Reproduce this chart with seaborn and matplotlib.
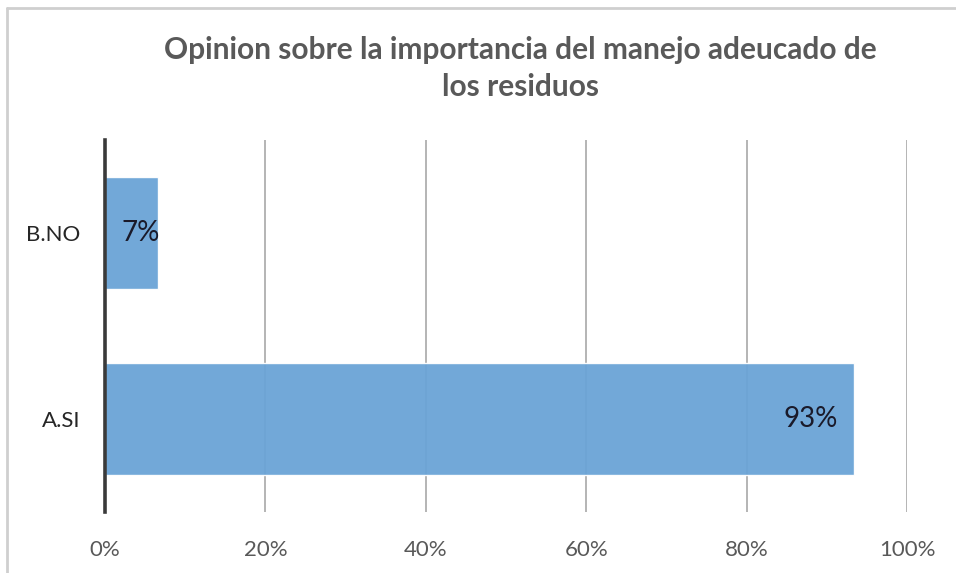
import pandas as pd
import seaborn as sns
import matplotlib.pyplot as plt
from matplotlib.lines import Line2D
from matplotlib.ticker import PercentFormatter

# Survey answers (percent of respondents)
categories = ["B.NO", "A.SI"]
percentages = [6.67, 93.33]
labels = ["7%", "93%"]

df = pd.DataFrame({"respuesta": categories, "porcentaje": percentages})

sns.set_style("white")
plt.rcParams["font.family"] = ["Lato", "DejaVu Sans"]

fig = plt.figure(figsize=(9.56, 5.73), dpi=100)
ax = fig.add_axes([0.1098, 0.1065, 0.839, 0.649])

# gridlines first so the bars sit over them
for x in range(20, 101, 20):
    ax.axvline(x, color="#b4b4b4", lw=1.4, zorder=0)

sns.barplot(data=df, x="porcentaje", y="respuesta", orient="h",
            color="#6aa3d6", saturation=1, width=0.6, alpha=0.95, ax=ax, zorder=2)

# value labels just inside the bar ends
offsets = [1, -11]
for i, (v, lab) in enumerate(zip(percentages, labels)):
    ax.annotate(lab, xy=(v, i), xytext=(offsets[i], 0), textcoords="offset points",
                ha="right", va="center", fontsize=20, color="#1a1a2a", zorder=3)

ax.set_xlim(0, 100)
ax.set_ylim(1.5, -0.5)
ax.xaxis.set_major_formatter(PercentFormatter(decimals=0))
ax.set_xticks(range(0, 101, 20))
ax.tick_params(axis="x", labelsize=16, labelcolor="#595959", length=0, pad=20)
ax.tick_params(axis="y", labelsize=16, labelcolor="#262626", length=0, pad=18)
ax.set_xlabel("")
ax.set_ylabel("")

for side in ["top", "right", "bottom"]:
    ax.spines[side].set_visible(False)
ax.spines["left"].set_color("#3a3a3a")
ax.spines["left"].set_linewidth(2.6)
ax.spines["left"].set_zorder(4)

fig.text(0.544, 0.881, "Opinion sobre la importancia del manejo adeucado de\nlos residuos",
         ha="center", va="center", fontsize=21.5, fontweight="bold", color="#595959",
         linespacing=1.4)

# chart frame (only top and left edges show in the crop)
fig.add_artist(Line2D([7 / 956, 1], [1 - 8 / 573, 1 - 8 / 573], color="#cfcfcf", lw=2))
fig.add_artist(Line2D([7 / 956, 7 / 956], [0, 1 - 8 / 573], color="#cfcfcf", lw=2))

fig.savefig("out.png", dpi=100)
